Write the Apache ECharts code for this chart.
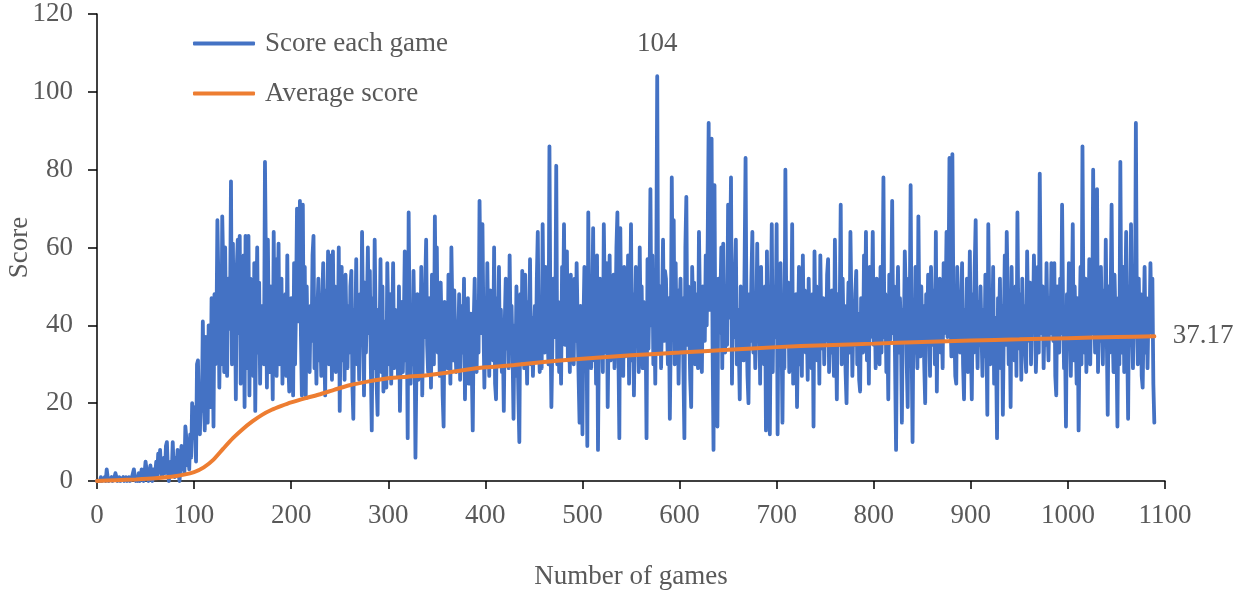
<!DOCTYPE html>
<html>
<head>
<meta charset="utf-8">
<script src="https://cdn.jsdelivr.net/npm/echarts@6/dist/echarts.min.js"></script>
<style>
  html, body { margin: 0; padding: 0; background: #fff; }
  #chart { width: 1245px; height: 592px; }
</style>
</head>
<body>
<div id="chart"></div>
<script>
// score of every game, game 0 .. 1089
const scores = [
  0,0,0,0,1,0,0,0,1,0, 3,1,0,0,0,1,0,0,1,2, 1,0,0,1,0,0,0,1,0,0, 1,0,0,1,0,0,1,2,3,1,
  0,1,0,2,0,1,3,1,0,2, 5,3,1,0,2,4,1,0,3,1, 2,5,1,7,3,8,2,1,4,6, 2,9,10,3,0,0,5,2,10,3,
  1,6,3,8,2,0,4,9,3,5, 2,14,11,4,8,3,12,6,20,11,
  19,13,5,30,31,17,12,24,18,41, 22,13,37,25,15,40,28,19,47,35, 14,48,30,38,67,52,24,42,30,68,
  55,28,60,35,27,52,39,44,77,30, 61,33,50,21,55,62,38,63,25,45, 35,58,19,63,41,29,63,22,52,36,
  48,27,56,18,42,60,33,51,25,45, 38,45,30,82,55,24,62,35,28,50, 40,21,64,33,57,27,45,61,30,38,
  52,25,44,35,48,27,58,31,23,42,
  47,35,22,56,30,45,70,62,41,72, 38,22,71,30,55,22,50,33,41,28, 45,36,58,63,29,40,25,44,52,31,
  38,27,47,56,35,22,49,40,59,30, 58,44,26,59,37,50,28,46,34,60, 18,42,55,31,47,26,53,38,29,45,
  33,50,54,25,16,44,38,57,30,42, 26,48,35,64,40,22,51,33,45,60, 38,54,30,13,47,29,62,40,25,17,
  44,36,57,28,50,23,41,35,24,56,
  42,30,48,25,38,56,29,44,33,39, 27,50,18,35,46,28,40,59,31,44, 11,69,37,25,42,30,54,38,6,29,
  48,26,40,33,55,22,45,37,50,62, 35,28,47,41,24,53,39,30,68,42, 60,33,45,27,51,38,22,14,46,35,
  40,29,53,37,25,60,44,31,49,36, 28,41,34,48,26,39,45,33,52,21, 40,30,47,25,38,43,29,13,41,52,
  35,28,46,33,72,50,38,66,41,24,
  45,30,56,38,27,49,35,42,31,60, 25,21,47,39,55,30,44,28,36,18, 41,52,34,47,29,58,37,45,33,16,
  40,27,50,36,22,10,48,31,54,44, 29,53,38,25,46,34,57,30,42,27, 38,45,31,52,64,36,28,43,29,66,
  40,33,55,47,38,30,86,41,19,35, 52,44,37,81,30,46,28,39,25,55, 42,66,35,48,59,31,44,28,53,38,
  46,30,52,36,56,41,27,15,45,38,
  12,40,55,33,46,9,69,37,50,29, 44,65,31,48,25,58,8,39,52,35, 42,28,66,47,33,56,19,40,58,31,
  45,37,53,29,41,60,69,34,11,65, 38,49,27,55,32,46,39,58,25,43, 66,31,48,22,40,55,35,44,28,60,
  37,50,29,46,33,41,11,57,34,48, 75,40,58,30,45,25,52,104,38,33, 50,29,45,62,36,54,52,41,30,47,
  16,38,78,45,67,30,56,36,49,25,
  42,52,33,47,28,11,60,73,35,50, 39,26,19,55,44,51,30,48,37,29, 64,45,33,28,50,41,36,58,40,62,
  92,44,55,88,35,8,76,30,47,14, 52,38,45,60,29,61,40,33,48,35, 71,42,56,78,25,47,37,53,62,30,
  44,35,21,50,38,42,31,56,83,40, 27,20,48,36,52,64,33,45,29,40, 61,38,47,25,55,34,42,30,50,13,
  59,35,46,12,44,66,28,50,37,41,
  66,12,48,33,56,39,15,45,29,80, 42,35,51,28,46,37,66,25,44,31, 48,19,38,55,30,44,27,58,36,49,
  33,41,26,52,38,45,29,48,14,59, 37,50,31,46,25,58,40,34,47,30, 42,36,53,57,28,45,33,49,38,27,
  62,40,21,48,35,44,71,30,52,37, 45,28,20,39,51,33,64,46,27,41, 35,48,54,30,43,26,23,47,38,33,
  58,40,64,31,48,25,55,37,42,64,
  35,46,29,52,38,41,30,55,33,44, 78,37,48,28,40,21,53,36,45,72, 38,50,30,8,42,55,33,47,39,15,
  44,36,59,48,30,19,52,40,76,35, 10,46,33,55,38,29,68,41,32,50, 37,45,30,20,48,36,53,41,27,55,
  44,35,49,30,64,23,47,38,52,33, 41,29,56,38,45,64,37,50,83,43, 32,84,48,40,27,25,55,38,44,33,
  46,56,30,21,44,37,52,28,41,59,
  36,21,48,33,55,67,40,29,46,35, 50,38,27,44,32,53,40,17,66,45, 30,48,36,55,25,42,33,11,47,38,
  52,29,45,17,40,58,35,64,48,30, 43,19,55,37,46,31,50,27,69,40, 34,48,26,52,38,45,33,28,59,42,
  36,51,30,47,40,58,44,28,38,55, 33,79,46,38,50,29,43,35,56,40, 31,47,38,56,45,36,56,27,22,50,
  41,33,52,38,71,45,29,37,14,48,
  35,56,40,27,44,66,31,50,38,25, 47,13,39,55,30,86,44,33,52,28, 41,36,57,30,48,38,80,45,33,50,
  75,28,47,36,55,40,30,49,35,62, 38,17,50,33,46,71,39,28,53,42, 36,14,47,30,82,41,33,55,28,45,
  64,38,16,50,35,66,40,29,47,37, 92,43,30,52,36,48,27,24,41,55, 33,47,29,44,38,56,42,52,25,15
];

// running average, read at a few games along the orange line
const avgGames = [0, 20, 40, 60, 80, 100, 110, 120, 130, 140, 150, 160, 170, 180, 190, 200,
  215, 230, 245, 260, 280, 300, 320, 340, 360, 380, 400, 430, 460, 500, 550, 600, 650, 700,
  750, 800, 850, 900, 950, 1000, 1050, 1089];
const avgValues = [0, 0.2, 0.4, 0.7, 1.2, 2.3, 3.5, 5.5, 8.3, 11, 13.3, 15.3, 17, 18.3, 19.3, 20.2,
  21.3, 22.3, 23.5, 24.6, 25.6, 26.4, 26.8, 27.2, 27.8, 28.6, 29.2, 29.8, 30.6, 31.4, 32.3, 33, 33.7, 34.4,
  34.9, 35.3, 35.7, 36.1, 36.4, 36.7, 37, 37.17];

const xTicks = [0, 100, 200, 300, 400, 500, 600, 700, 800, 900, 1000, 1100];
const yTicks = [0, 20, 40, 60, 80, 100, 120];

const font = '"Liberation Serif", "DejaVu Serif", serif';
const textColor = '#595959';
const fontSize = 27;

const peakIndex = scores.indexOf(Math.max(...scores));
const lastAvg = avgValues.length - 1;

const chart = echarts.init(document.getElementById('chart'), null, { renderer: 'canvas' });

chart.setOption({
  animation: false,
  backgroundColor: '#ffffff',
  grid: { left: 97, right: 80, top: 14, bottom: 111, containLabel: false, outerBoundsMode: 'none' },
  legend: {
    orient: 'vertical',
    left: 188,
    top: 25,
    itemWidth: 62,
    itemHeight: 4,
    itemGap: 23,
    icon: 'roundRect',
    textStyle: { fontFamily: font, fontSize: fontSize, color: textColor, padding: [0, 0, 0, 5] },
    data: ['Score each game', 'Average score']
  },
  xAxis: {
    type: 'value',
    min: xTicks[0],
    max: xTicks[xTicks.length - 1],
    interval: 100,
    name: 'Number of games',
    nameLocation: 'middle',
    nameGap: 82,
    nameMoveOverlap: false,
    nameTextStyle: { fontFamily: font, fontSize: fontSize, color: textColor },
    axisLine: { lineStyle: { color: '#000', width: 1.5 } },
    axisTick: { show: true, inside: false, length: 8, lineStyle: { color: '#000', width: 1.5 } },
    axisLabel: { fontFamily: font, fontSize: fontSize, color: textColor, margin: 21,
      formatter: v => String(v) },
    splitLine: { show: false }
  },
  yAxis: {
    type: 'value',
    min: yTicks[0],
    max: yTicks[yTicks.length - 1],
    interval: 20,
    name: 'Score',
    nameLocation: 'middle',
    nameGap: 64,
    nameMoveOverlap: false,
    nameRotate: 90,
    nameTextStyle: { fontFamily: font, fontSize: fontSize, color: textColor },
    axisLine: { show: true, lineStyle: { color: '#000', width: 1.5 } },
    axisTick: { show: true, inside: false, length: 9, lineStyle: { color: '#000', width: 1.5 } },
    axisLabel: { fontFamily: font, fontSize: fontSize, color: textColor, margin: 24 },
    splitLine: { show: false }
  },
  series: [
    {
      name: 'Score each game',
      type: 'line',
      data: scores.map((v, i) => [i, v]),
      showSymbol: false,
      symbol: 'none',
      color: '#4472C4',
      lineStyle: { color: '#4472C4', width: 3.8, join: 'round', cap: 'round' },
      markPoint: {
        symbol: 'circle',
        symbolSize: 1,
        itemStyle: { color: 'rgba(0,0,0,0)' },
        label: { show: true, position: 'top', distance: 18, fontFamily: font, fontSize: fontSize,
          color: textColor, formatter: p => String(p.value) },
        data: [{ coord: [peakIndex, scores[peakIndex]], value: scores[peakIndex] }]
      },
      z: 2
    },
    {
      name: 'Average score',
      type: 'line',
      data: avgGames.map((g, i) => [g, avgValues[i]]),
      smooth: 0.2,
      showSymbol: false,
      symbol: 'none',
      color: '#ED7D31',
      lineStyle: { color: '#ED7D31', width: 4, cap: 'round' },
      markPoint: {
        symbol: 'circle',
        symbolSize: 1,
        itemStyle: { color: 'rgba(0,0,0,0)' },
        label: { show: true, position: 'right', distance: 18, fontFamily: font, fontSize: fontSize,
          color: textColor, formatter: p => p.value.toFixed(2) },
        data: [{ coord: [avgGames[lastAvg], avgValues[lastAvg]], value: avgValues[lastAvg] }]
      },
      z: 3
    }
  ]
});
</script>
</body>
</html>
